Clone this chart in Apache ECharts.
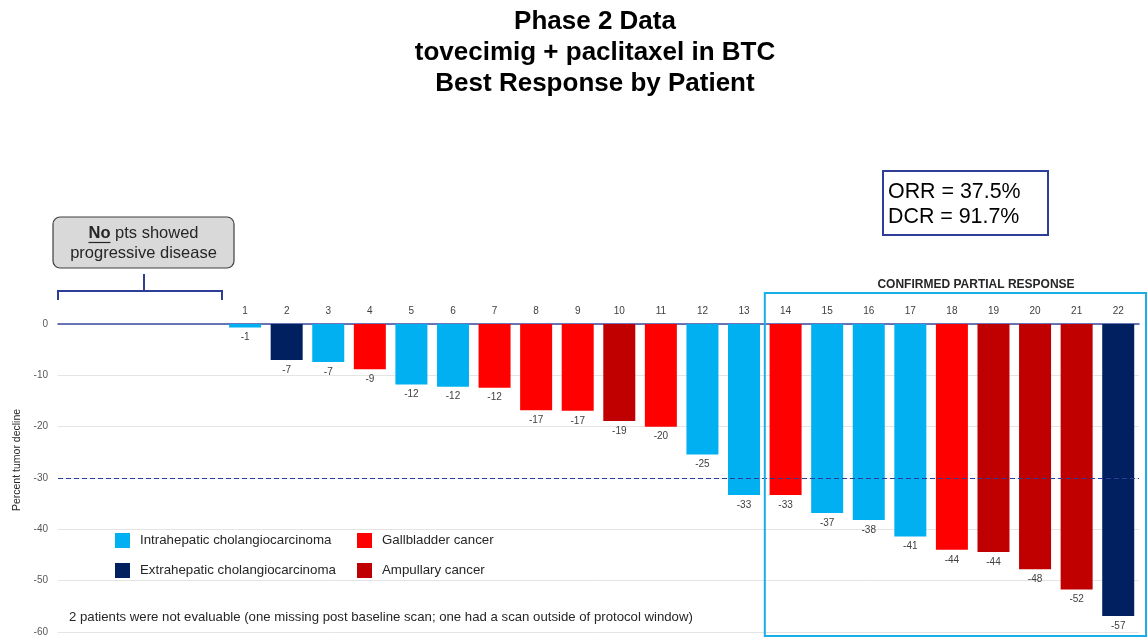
<!DOCTYPE html>
<html>
<head>
<meta charset="utf-8">
<script src="https://cdn.jsdelivr.net/npm/echarts@6/dist/echarts.min.js"></script>
<style>
html,body{margin:0;padding:0;background:#fff;}
#chart{width:1147px;height:638px;}
</style>
</head>
<body>
<div id="chart"></div>
<script>
// ---- data ----
const blankSlots = ['', ' ', '  ', '   '];
const patients = ['1','2','3','4','5','6','7','8','9','10','11','12','13','14','15','16','17','18','19','20','21','22'];
const values = [-0.7, -7.0, -7.4, -8.8, -11.8, -12.2, -12.4, -16.8, -16.9, -18.9, -20.0, -25.4, -33.3, -33.3, -36.8, -38.2, -41.4, -44.0, -44.4, -47.8, -51.7, -56.9];
const types = ['Intrahepatic cholangiocarcinoma','Extrahepatic cholangiocarcinoma','Intrahepatic cholangiocarcinoma','Gallbladder cancer',
  'Intrahepatic cholangiocarcinoma','Intrahepatic cholangiocarcinoma','Gallbladder cancer','Gallbladder cancer','Gallbladder cancer',
  'Ampullary cancer','Gallbladder cancer','Intrahepatic cholangiocarcinoma','Intrahepatic cholangiocarcinoma','Gallbladder cancer',
  'Intrahepatic cholangiocarcinoma','Intrahepatic cholangiocarcinoma','Intrahepatic cholangiocarcinoma','Gallbladder cancer',
  'Ampullary cancer','Ampullary cancer','Ampullary cancer','Extrahepatic cholangiocarcinoma'];
const typeNames = ['Intrahepatic cholangiocarcinoma','Extrahepatic cholangiocarcinoma','Gallbladder cancer','Ampullary cancer'];
const yTicks = [0, -10, -20, -30, -40, -50, -60];
const thresholdValue = -30;
const confirmedFrom = '14';
const confirmedTo = '22';

// ---- styles ----
const FONT = '"Liberation Sans", Arial, sans-serif';
const typeColors = {
  'Intrahepatic cholangiocarcinoma': '#00B0F0',
  'Extrahepatic cholangiocarcinoma': '#002060',
  'Gallbladder cancer': '#FF0000',
  'Ampullary cancer': '#C00000'
};

const categories = blankSlots.concat(patients);
const series = typeNames.map((t, si) => ({
  name: t,
  type: 'bar',
  stack: 'all',
  barWidth: 32,
  itemStyle: { color: typeColors[t] },
  label: {
    show: true, position: 'bottom', distance: 5,
    fontSize: 10, color: '#404040', fontFamily: FONT,
    formatter: p => String(Math.round(p.value))
  },
  data: blankSlots.map(() => '-').concat(values.map((v, i) => types[i] === t ? v : '-')),
  markLine: si === 0 ? {
    silent: true, symbol: ['none', 'none'], label: { show: false },
    lineStyle: { color: '#2E3D98', type: [5, 3], width: 1.2 },
    data: [{ yAxis: thresholdValue }]
  } : undefined
}));

const chart = echarts.init(document.getElementById('chart'), null, { renderer: 'canvas' });
chart.setOption({
  backgroundColor: '#ffffff',
  animation: false,
  textStyle: { fontFamily: FONT },
  grid: { left: 58, right: 8, top: 324, bottom: 6, containLabel: false },
  legend: [
    { data: typeNames.slice(0, 2), orient: 'vertical', left: 115, top: 533, padding: 0,
      itemWidth: 15, itemHeight: 15, itemGap: 15, icon: 'rect', selectedMode: false,
      textStyle: { fontSize: 13.3, color: '#262626', fontFamily: FONT, padding: [0, 0, 0, 5] } },
    { data: typeNames.slice(2, 4), orient: 'vertical', left: 357, top: 533, padding: 0,
      itemWidth: 15, itemHeight: 15, itemGap: 15, icon: 'rect', selectedMode: false,
      textStyle: { fontSize: 13.3, color: '#262626', fontFamily: FONT, padding: [0, 0, 0, 5] } }
  ],
  xAxis: {
    type: 'category', position: 'top', data: categories,
    axisTick: { show: false },
    axisLine: { lineStyle: { color: '#3A4A9F', width: 1.5 } },
    axisLabel: { interval: 0, fontSize: 10, color: '#404040', margin: 8, fontFamily: FONT },
    splitLine: { show: false }
  },
  yAxis: {
    type: 'value', min: yTicks[yTicks.length - 1], max: yTicks[0], interval: 10,
    axisLine: { show: false }, axisTick: { show: false },
    axisLabel: { fontSize: 10, color: '#595959', margin: 10, fontFamily: FONT },
    splitLine: { lineStyle: { color: '#E4E4E4', width: 1 } }
  },
  series: series
});

// ---- annotations ----
const ctx = document.createElement('canvas').getContext('2d');
ctx.font = 'bold 16.5px ' + FONT; const wNo = ctx.measureText('No').width;
ctx.font = '16.5px ' + FONT; const wRest = ctx.measureText(' pts showed').width;
const boxCx = 143.5;
const noStart = boxCx - (wNo + wRest) / 2;

const bandW = chart.convertToPixel({ xAxisIndex: 0 }, '2') - chart.convertToPixel({ xAxisIndex: 0 }, '1');
const cprLeft = chart.convertToPixel({ xAxisIndex: 0 }, confirmedFrom) - bandW / 2;
const cprRight = chart.convertToPixel({ xAxisIndex: 0 }, confirmedTo) + bandW / 2 + 7;

chart.setOption({
  graphic: [
    { type: 'text', x: 595, y: 6, z: 10,
      style: { text: 'Phase 2 Data\ntovecimig + paclitaxel in BTC\nBest Response by Patient',
        fill: '#000', font: 'bold 26px ' + FONT, lineHeight: 31, align: 'center', verticalAlign: 'top' } },
    { type: 'text', x: 17, y: 460, rotation: Math.PI / 2, z: 10,
      style: { text: 'Percent tumor decline', fill: '#262626', font: '10.5px ' + FONT, align: 'center', verticalAlign: 'middle' } },
    // No progressive disease box
    { type: 'rect', z: 10, shape: { x: 53, y: 217, width: 181, height: 51, r: 7 },
      style: { fill: '#D9D9D9', stroke: '#3F3F3F', lineWidth: 1.2 } },
    { type: 'text', z: 11, x: boxCx, y: 243,
      style: { text: '{b|No} pts showed\nprogressive disease', align: 'center', verticalAlign: 'middle',
        font: '16.5px ' + FONT, fill: '#262626', lineHeight: 20,
        rich: { b: { fontWeight: 'bold', fontSize: 16.5, fontFamily: FONT, fill: '#262626' } } } },
    { type: 'line', z: 11, shape: { x1: noStart, y1: 242.5, x2: noStart + wNo, y2: 242.5 },
      style: { stroke: '#262626', lineWidth: 1.2 } },
    { type: 'polyline', z: 10, shape: { points: [[58, 300], [58, 291], [222, 291], [222, 300]] },
      style: { stroke: '#2E3D98', lineWidth: 2, fill: null } },
    { type: 'line', z: 10, shape: { x1: 144, y1: 274, x2: 144, y2: 291 },
      style: { stroke: '#2E3D98', lineWidth: 2 } },
    // ORR/DCR box
    { type: 'rect', z: 10, shape: { x: 883, y: 171, width: 165, height: 64 },
      style: { fill: '#fff', stroke: '#2E3D98', lineWidth: 2 } },
    { type: 'text', z: 11, x: 888, y: 192,
      style: { text: 'ORR = 37.5%', font: '21.4px ' + FONT, fill: '#000', verticalAlign: 'middle' } },
    { type: 'text', z: 11, x: 888, y: 217,
      style: { text: 'DCR = 91.7%', font: '21.4px ' + FONT, fill: '#000', verticalAlign: 'middle' } },
    // Confirmed partial response
    { type: 'rect', z: 9, shape: { x: cprLeft, y: 293, width: cprRight - cprLeft, height: 343 },
      style: { fill: null, stroke: '#1AAEE8', lineWidth: 2 } },
    { type: 'text', z: 11, x: 976, y: 285,
      style: { text: 'CONFIRMED PARTIAL RESPONSE', font: 'bold 12px ' + FONT, fill: '#262626', align: 'center', verticalAlign: 'middle' } },
    // footnote
    { type: 'text', z: 11, x: 69, y: 617,
      style: { text: '2 patients were not evaluable (one missing post baseline scan; one had a scan outside of protocol window)',
        font: '13.2px ' + FONT, fill: '#262626', verticalAlign: 'middle' } }
  ]
});
</script>
</body>
</html>
